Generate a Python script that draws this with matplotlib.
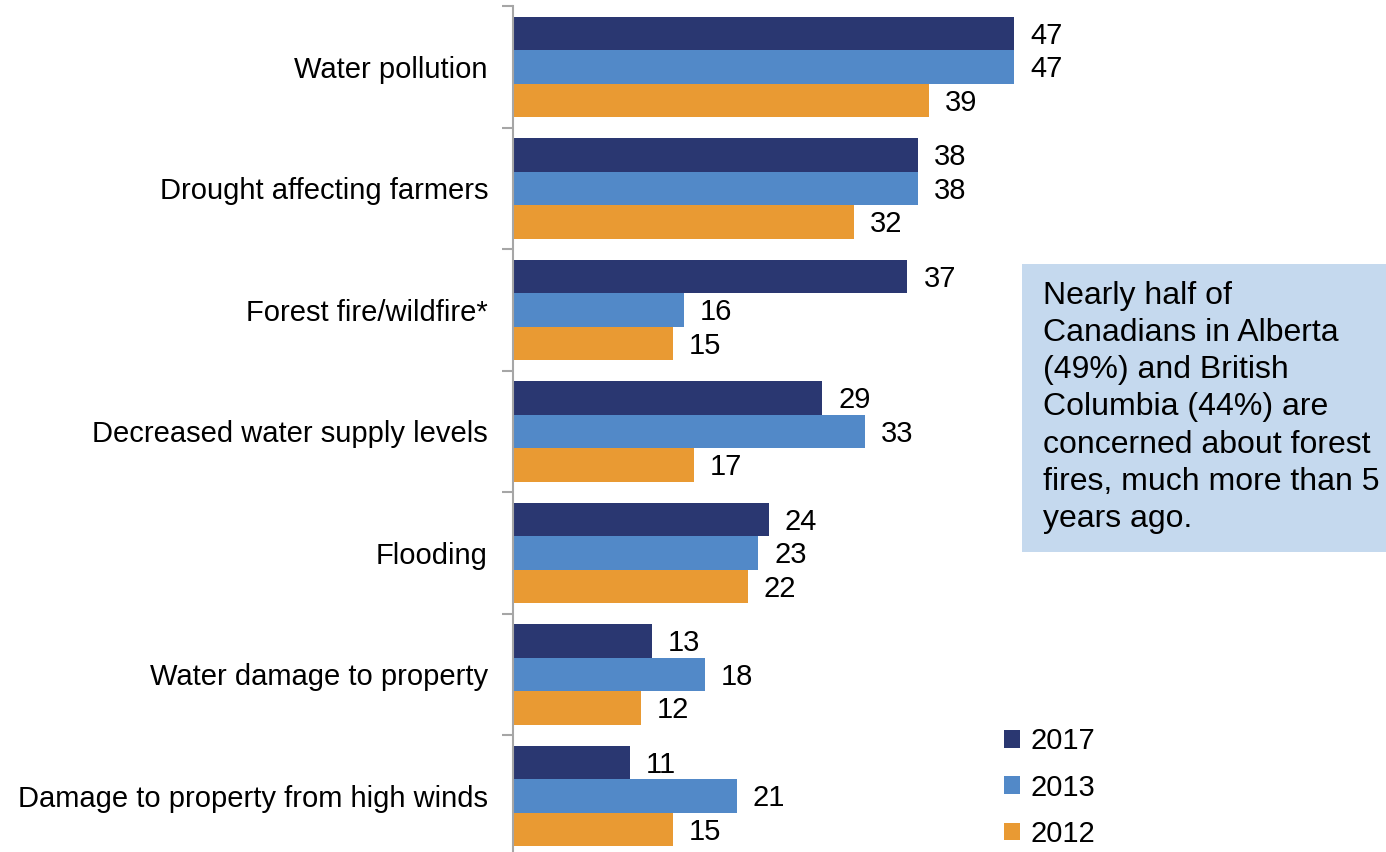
import matplotlib.pyplot as plt
from matplotlib.patches import Rectangle, Patch
import numpy as np

plt.rcParams['font.family'] = ['Liberation Sans', 'DejaVu Sans']

categories = ['Water pollution', 'Drought affecting farmers', 'Forest fire/wildfire*',
              'Decreased water supply levels', 'Flooding', 'Water damage to property',
              'Damage to property from high winds']
years = ['2017', '2013', '2012']
v2017 = [47, 38, 37, 29, 24, 13, 11]
v2013 = [47, 38, 16, 33, 23, 18, 21]
v2012 = [39, 32, 15, 17, 22, 12, 15]
colors = ['#2A3771', '#5289C8', '#E99A33']
note = ("Nearly half of\nCanadians in Alberta\n(49%) and British\nColumbia (44%) are\n"
        "concerned about forest\nfires, much more than 5\nyears ago.")

FS = 21
W, H = 1386, 852
fig = plt.figure(figsize=(W / 100, H / 100), dpi=100)
ax = fig.add_axes([513 / W, -4.5 / H, 1 - 513 / W, 850.5 / H])

y = np.arange(len(categories))
h = 33.5 / 121.5
for k, (vals, c) in enumerate(zip([v2017, v2013, v2012], colors)):
    pos = y + (k - 1) * h
    ax.barh(pos, vals, height=h, color=c, label=years[k])
    for p, v in zip(pos, vals):
        ax.text(v + 1.5, p + 0.02, str(v), va='center', ha='left', fontsize=FS, color='black')

ax.set_xlim(0, 873 / (501 / 47))
ax.set_ylim(len(categories) - 0.5, -0.5)

for s in ['top', 'right', 'bottom']:
    ax.spines[s].set_visible(False)
ax.spines['left'].set_color('#A6A6A6')
ax.spines['left'].set_linewidth(1.5)
ax.set_xticks([])
ax.set_yticks(np.arange(len(categories) + 1) - 0.5)
ax.set_yticklabels([])
ax.tick_params(axis='y', which='major', length=8, color='#A6A6A6', width=1.5)
ax.set_yticks(y, minor=True)
ax.set_yticklabels(categories, minor=True, fontsize=FS)
ax.tick_params(axis='y', which='minor', length=0, pad=18)

# annotation box
fig.patches.append(Rectangle((1022 / W, 1 - 552 / H), (W - 1022) / W, (552 - 264) / H,
                             transform=fig.transFigure, facecolor='#C5D9EE', edgecolor='none', zorder=5))
fig.text(1043 / W, 1 - 281 / H, note, fontsize=23, va='top', ha='left',
         linespacing=1.31, zorder=6)

handles = [Patch(facecolor=c, edgecolor='none') for c in colors]
fig.legend(handles, years, loc='lower left', bbox_to_anchor=(1000 / W, 0.0 / H),
           fontsize=FS, frameon=False, handlelength=0.55, handleheight=0.55,
           handletextpad=0.35, labelspacing=0.62, borderpad=0.15, borderaxespad=0)

fig.savefig('out.png', dpi=100)
